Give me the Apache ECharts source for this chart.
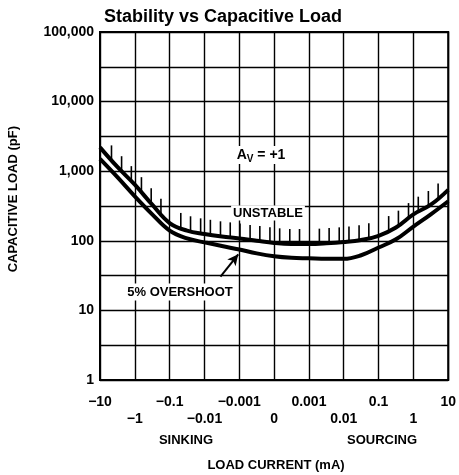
<!DOCTYPE html>
<html>
<head>
<meta charset="utf-8">
<script src="https://cdn.jsdelivr.net/npm/echarts@6/dist/echarts.min.js"></script>
<style>
  html, body { margin: 0; padding: 0; background: #fff; }
  #chart { width: 459px; height: 475px; }
</style>
</head>
<body>
<div id="chart"></div>
<script>
// x axis is a folded log scale, one grid step per label
const xLabels = ['−10', '−1', '−0.1', '−0.01', '−0.001', '0', '0.001', '0.01', '0.1', '1', '10']
const curveX = [0, 0.5, 1, 1.5, 2, 2.5, 3, 3.5, 4, 4.5, 5, 5.5, 6, 6.5, 7, 7.5, 8, 8.5, 9, 9.5, 10]
const unstableLoad = [2200, 1150, 640, 330, 180, 140, 125, 115, 108, 100, 93, 90, 90, 92, 96, 103, 118, 155, 240, 330, 540]
const overshootLoad = [1500, 820, 435, 240, 140, 108, 95, 84, 75, 66, 60, 57, 56, 55, 55, 62, 80, 105, 160, 240, 370]
// hatch marks along the unstable boundary
const hatchX = [0.33, 0.62, 0.90, 1.19, 1.47, 1.75, 2.32, 2.60, 2.89, 3.17, 3.46, 3.74, 4.02, 4.31, 4.59, 4.88,
  5.16, 5.45, 5.73, 6.30, 6.58, 6.87, 7.15, 7.44, 7.72, 8.29, 8.57, 8.86, 9.14, 9.43, 9.71]
const hatchLoad = [1430, 1000, 720, 500, 345, 245, 153, 137, 128, 122, 116, 112, 108, 103, 99, 95,
  92, 90, 90, 91, 93, 95, 98, 102, 109, 138, 165, 212, 262, 316, 406]

const font = '"Liberation Sans", Arial, sans-serif'
const chart = echarts.init(document.getElementById('chart'))

const zip = (xs, ys) => xs.map((x, i) => [x, ys[i]])

let option = {
  animation: false,
  title: {
    text: 'Stability vs Capacitive Load',
    left: 99,
    top: 3,
    textStyle: { fontFamily: font, fontWeight: 'bold', fontSize: 18, color: '#000' }
  },
  grid: {
    left: 100, right: 7, top: 32, bottom: 95,
    show: true, borderColor: '#000', borderWidth: 2
  },
  xAxis: {
    type: 'value',
    min: 0,
    max: 10,
    interval: 1,
    axisLine: { lineStyle: { color: '#000', width: 2 } },
    axisTick: { show: false },
    splitLine: { show: true, lineStyle: { color: '#000', width: 1.4 } },
    axisLabel: {
      margin: 14,
      fontFamily: font,
      fontWeight: 'bold',
      fontSize: 14,
      lineHeight: 17,
      color: '#000',
      formatter: function (v) {
        let i = Math.round(v)
        return i % 2 ? '\n' + xLabels[i] : xLabels[i]
      }
    }
  },
  yAxis: [
    {
      type: 'log',
      logBase: 10,
      min: 1,
      max: 100000,
      axisLine: { lineStyle: { color: '#000', width: 2 } },
      axisTick: { show: false },
      splitLine: { show: false },
      axisLabel: {
        margin: 6,
        fontFamily: font,
        fontWeight: 'bold',
        fontSize: 14,
        color: '#000',
        formatter: v => Number(v).toLocaleString('en-US')
      }
    },
    {
      // half-decade grid lines
      type: 'value',
      min: 0,
      max: 5,
      interval: 0.5,
      position: 'left',
      axisLine: { show: false },
      axisTick: { show: false },
      axisLabel: { show: false },
      splitLine: { show: true, lineStyle: { color: '#000', width: 1.4 } }
    }
  ],
  series: [
    {
      name: 'unstable',
      type: 'line',
      smooth: 0.4,
      showSymbol: false,
      data: zip(curveX, unstableLoad),
      lineStyle: { color: '#000', width: 4 },
      z: 5
    },
    {
      name: '5% overshoot',
      type: 'line',
      smooth: 0.4,
      showSymbol: false,
      data: zip(curveX, overshootLoad),
      lineStyle: { color: '#000', width: 4 },
      z: 5,
      markLine: {
        silent: true,
        symbol: ['none', 'arrow'],
        symbolSize: [8, 11],
        label: { show: false },
        lineStyle: { color: '#000', width: 2, type: 'solid' },
        data: [[{ coord: [3.46, 30.5] }, { coord: [3.97, 64] }]]
      }
    },
    {
      name: 'hatch',
      type: 'custom',
      data: zip(hatchX, hatchLoad),
      encode: { x: 0, y: 1 },
      z: 4,
      renderItem: function (params, api) {
        let p = api.coord([api.value(0), api.value(1)])
        return {
          type: 'line',
          shape: { x1: p[0], y1: p[1], x2: p[0], y2: p[1] - 15 },
          style: { stroke: '#000', lineWidth: 1.6 }
        }
      }
    }
  ],
  graphic: [
    {
      type: 'text', left: 7, top: 126, rotation: Math.PI / 2, z: 10,
      style: { text: 'CAPACITIVE LOAD (pF)', font: 'bold 13px ' + font, fill: '#000' }
    },
    {
      type: 'text', x: 276, y: 465, z: 10,
      style: { text: 'LOAD CURRENT (mA)', font: 'bold 13px ' + font, fill: '#000', align: 'center', verticalAlign: 'middle' }
    },
    {
      type: 'text', x: 186, y: 440, z: 10,
      style: { text: 'SINKING', font: 'bold 13px ' + font, fill: '#000', align: 'center', verticalAlign: 'middle' }
    },
    {
      type: 'text', x: 382, y: 440, z: 10,
      style: { text: 'SOURCING', font: 'bold 13px ' + font, fill: '#000', align: 'center', verticalAlign: 'middle' }
    },
    {
      type: 'text', x: 268, y: 213, z: 10,
      style: {
        text: 'UNSTABLE', font: 'bold 13px ' + font, fill: '#000', align: 'center', verticalAlign: 'middle',
        backgroundColor: '#fff', padding: [1, 2]
      }
    },
    {
      type: 'text', x: 180, y: 292, z: 10,
      style: {
        text: '5% OVERSHOOT', font: 'bold 13px ' + font, fill: '#000', align: 'center', verticalAlign: 'middle',
        backgroundColor: '#fff', padding: [2, 2]
      }
    },
    {
      type: 'text', x: 261, y: 155, z: 10,
      style: {
        text: '{a|A}{s|V}{a| = +1}',
        align: 'center', verticalAlign: 'middle',
        backgroundColor: '#fff', padding: [0, 2],
        rich: {
          a: { font: 'bold 14px ' + font, fill: '#000', lineHeight: 18, verticalAlign: 'middle' },
          s: { font: 'bold 10px ' + font, fill: '#000', lineHeight: 9, verticalAlign: 'bottom' }
        }
      }
    }
  ]
}

chart.setOption(option)
</script>
</body>
</html>
